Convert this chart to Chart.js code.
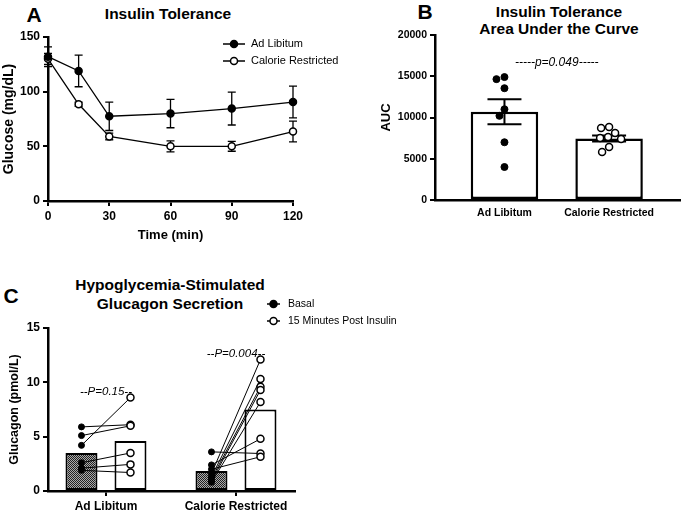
<!DOCTYPE html>
<html>
<head>
<meta charset="utf-8">
<script src="https://cdn.jsdelivr.net/npm/chart.js@4.4.1/dist/chart.umd.min.js"></script>
<style>
  html, body { margin: 0; padding: 0; background: #fff; }
  body { width: 685px; height: 515px; position: relative; overflow: hidden; font-family: "Liberation Sans", Arial, sans-serif; }
  canvas { position: absolute; }
  .t { position: absolute; transform: translate(-50%, -50%); font-weight: bold; white-space: nowrap; color: #000; line-height: 1; }
  .title { font-size: 15.5px; }
  .letter { font-size: 21px; }
</style>
</head>
<body>
<div class="t letter" style="left:34px;top:14px">A</div>
<div class="t title" style="left:168px;top:14px">Insulin Tolerance</div>
<div class="t letter" style="left:425px;top:11px">B</div>
<div class="t title" style="left:559px;top:12px">Insulin Tolerance</div>
<div class="t title" style="left:559px;top:29px">Area Under the Curve</div>
<div class="t letter" style="left:11px;top:295px">C</div>
<div class="t title" style="left:170px;top:285px">Hypoglycemia-Stimulated</div>
<div class="t title" style="left:170px;top:304px">Glucagon Secretion</div>

<canvas id="chartA" width="345" height="245" style="left:0;top:0;width:345px;height:245px"></canvas>
<canvas id="chartB" width="340" height="230" style="left:345px;top:0;width:340px;height:230px"></canvas>
<canvas id="chartC" width="440" height="265" style="left:0;top:250px;width:440px;height:265px"></canvas>

<script>
// Panel A: insulin tolerance test, glucose mean and SEM per time point
const timeMin = [0, 15, 30, 60, 90, 120];
const adLibGlucose = [132, 119, 77.5, 80, 84.5, 90.5];
const adLibGlucoseSem = [9, 14.5, 13, 13, 15, 14.5];
const crGlucose = [130, 88.5, 59, 50, 50, 63.5];
const crGlucoseSem = [5, 2, 3, 5, 4.5, 9.5];

// Panel B: area under the curve
const groups = ["Ad Libitum", "Calorie Restricted"];
const aucMean = [10700, 7450];
const aucSem = [1520, 370];
const aucAdLib = [14900, 14650, 13550, 11000, 10200, 7000, 4000];
const aucCR = [8850, 8730, 8120, 7640, 7520, 7400, 6420, 5820];

// Panel C: glucagon, basal vs 15 min post insulin (paired by index)
const glucagonBasalMean = [3.5, 1.85];
const glucagonPostMean = [4.6, 7.5];
const adLibBasal = [5.9, 5.1, 4.2, 2.6, 2.1, 1.9];
const adLibPost = [6.1, 6.0, 8.6, 3.5, 2.45, 1.7];
const crBasal = [3.6, 2.4, 2.0, 1.6, 1.3, 1.1, 0.9, 0.8];
const crPost = [3.45, 4.8, 3.15, 12.1, 10.3, 9.6, 9.3, 8.2];

const FONT = '"Liberation Sans", Arial, sans-serif';
Chart.defaults.font.family = FONT;
Chart.defaults.color = "#000";
Chart.defaults.animation = false;
Chart.defaults.events = [];
Chart.defaults.plugins.legend.display = false;
Chart.defaults.plugins.tooltip.enabled = false;

function axisStyle(tickLen) {
  return {
    offset: false,
    grid: { offset: false, drawOnChartArea: false, drawTicks: tickLen > 0, tickLength: tickLen, color: "#000", lineWidth: 2 },
    border: { color: "#000", width: 2.5 },
  };
}
function fixSize(px) {
  return (s) => { if (s.isHorizontal()) s.height = px; else s.width = px; };
}
const bold = (size) => ({ size, weight: "bold" });

// error bars for line datasets (mean +/- sem)
const lineErrorBars = {
  id: "lineErrorBars",
  beforeDatasetsDraw(chart) {
    const ctx = chart.ctx, y = chart.scales.y;
    chart.data.datasets.forEach((ds, i) => {
      if (!ds.sem) return;
      chart.getDatasetMeta(i).data.forEach((pt, j) => {
        const v = ds.data[j].y;
        const top = y.getPixelForValue(v + ds.sem[j]);
        const bot = y.getPixelForValue(v - ds.sem[j]);
        ctx.save();
        ctx.strokeStyle = "#000";
        ctx.lineWidth = 1.3;
        ctx.beginPath();
        ctx.moveTo(pt.x, top); ctx.lineTo(pt.x, bot);
        ctx.moveTo(pt.x - 4, top); ctx.lineTo(pt.x + 4, top);
        ctx.moveTo(pt.x - 4, bot); ctx.lineTo(pt.x + 4, bot);
        ctx.stroke();
        ctx.restore();
      });
    });
  },
};

// error bars on top of bars
const barErrorBars = {
  id: "barErrorBars",
  afterDatasetDraw(chart, args) {
    const ds = chart.data.datasets[args.index];
    if (!ds.sem || ds.type !== "bar") return;
    const ctx = chart.ctx, y = chart.scales.y;
    args.meta.data.forEach((bar, j) => {
      const v = ds.data[j].y;
      const top = y.getPixelForValue(v + ds.sem[j]);
      const bot = y.getPixelForValue(v - ds.sem[j]);
      ctx.save();
      ctx.strokeStyle = "#000";
      ctx.lineWidth = 2;
      ctx.beginPath();
      ctx.moveTo(bar.x, top); ctx.lineTo(bar.x, bot);
      ctx.moveTo(bar.x - 17, top); ctx.lineTo(bar.x + 17, top);
      ctx.moveTo(bar.x - 17, bot); ctx.lineTo(bar.x + 17, bot);
      ctx.stroke();
      ctx.restore();
    });
  },
};

// moves points onto their bar's centre, then spreads overlapping ones sideways
const placePoints = {
  id: "placePoints",
  afterDatasetsUpdate(chart) {
    chart.data.datasets.forEach((ds, i) => {
      const pts = chart.getDatasetMeta(i).data;
      if (ds.alignTo !== undefined) {
        const bars = chart.getDatasetMeta(ds.alignTo).data;
        pts.forEach((p, j) => { p.x = bars[ds.data[j].x].x; });
      }
      if (ds.swarm) {
        const placed = [];
        [...pts].sort((a, b) => a.y - b.y).forEach((p) => {
          const x0 = p.x;
          for (let k = 0; k < 80; k++) {
            const off = (k % 2 ? -1 : 1) * Math.ceil(k / 2);
            const ok = placed.every((q) => Math.hypot(x0 + off - q.x, p.y - q.y) >= ds.swarm);
            if (ok) { p.x = x0 + off; break; }
          }
          placed.push(p);
        });
      }
    });
  },
};

// thin lines joining each animal's basal and post values
let pairsDrawn = false;
const pairLines = {
  id: "pairLines",
  beforeDraw() { pairsDrawn = false; },
  beforeDatasetDraw(chart, args) {
    if (pairsDrawn || chart.data.datasets[args.index].type !== "scatter") return;
    pairsDrawn = true;
    const a = chart.getDatasetMeta(2).data, b = chart.getDatasetMeta(3).data;
    const ctx = chart.ctx;
    ctx.save();
    ctx.strokeStyle = "#000";
    ctx.lineWidth = 1;
    a.forEach((p, j) => {
      ctx.beginPath(); ctx.moveTo(p.x, p.y); ctx.lineTo(b[j].x, b[j].y); ctx.stroke();
    });
    ctx.restore();
  },
};

function makeLegend(cfg) {
  return {
    id: "legendBox",
    afterDraw(chart) {
      const ctx = chart.ctx;
      const items = chart.data.datasets.filter((d) => d.legend);
      ctx.save();
      ctx.font = `${cfg.size}px ${FONT}`;
      ctx.textBaseline = "middle";
      items.forEach((d, i) => {
        const y = cfg.y + i * cfg.gap;
        ctx.strokeStyle = "#000";
        ctx.lineWidth = 1.5;
        ctx.beginPath(); ctx.moveTo(cfg.x, y); ctx.lineTo(cfg.x + cfg.line, y); ctx.stroke();
        ctx.beginPath(); ctx.arc(cfg.x + cfg.line / 2, y, 3.5, 0, Math.PI * 2);
        ctx.fillStyle = d.pointBackgroundColor; ctx.fill(); ctx.stroke();
        ctx.fillStyle = "#000";
        ctx.fillText(d.label, cfg.textX, y);
      });
      ctx.restore();
    },
  };
}

function makeNotes(notes, size) {
  return {
    id: "notes",
    afterDraw(chart) {
      const ctx = chart.ctx, x = chart.scales.x, y = chart.scales.y;
      ctx.save();
      ctx.font = `italic ${size}px ${FONT}`;
      ctx.textAlign = "center";
      ctx.textBaseline = "middle";
      ctx.fillStyle = "#000";
      notes.forEach((n) => ctx.fillText(n.text, x.getPixelForValue(n.x), y.getPixelForValue(n.y)));
      ctx.restore();
    },
  };
}

function checker(canvas) {
  const c = document.createElement("canvas");
  c.width = c.height = 2;
  const g = c.getContext("2d");
  g.fillStyle = "#aaa"; g.fillRect(0, 0, 2, 2);
  g.fillStyle = "#222"; g.fillRect(0, 0, 1, 1); g.fillRect(1, 1, 1, 1);
  return canvas.getContext("2d").createPattern(c, "repeat");
}

// A: INSULIN TOLERANCE (line with error bars)
new Chart(document.getElementById("chartA"), {
  type: "line",
  data: {
    datasets: [
      {
        label: "Ad Libitum", legend: true,
        data: timeMin.map((t, i) => ({ x: t, y: adLibGlucose[i] })), sem: adLibGlucoseSem,
        borderColor: "#000", borderWidth: 1.3, pointRadius: 3.5,
        pointBackgroundColor: "#000", pointBorderColor: "#000", pointBorderWidth: 1.5, clip: false,
      },
      {
        label: "Calorie Restricted", legend: true,
        data: timeMin.map((t, i) => ({ x: t, y: crGlucose[i] })), sem: crGlucoseSem,
        borderColor: "#000", borderWidth: 1.3, pointRadius: 3.5,
        pointBackgroundColor: "#fff", pointBorderColor: "#000", pointBorderWidth: 1.5, clip: false,
      },
    ],
  },
  options: {
    responsive: false,
    layout: { padding: { top: 37, right: 52, left: 0, bottom: 0 } },
    scales: {
      x: {
        type: "linear", min: 0, max: 120, ...axisStyle(5),
        ticks: { stepSize: 30, padding: 3, font: bold(12) },
        title: { display: true, text: "Time (min)", font: bold(13), padding: { top: 0, bottom: 2 } },
        afterFit: fixSize(44),
      },
      y: {
        min: 0, max: 150, ...axisStyle(5),
        ticks: { stepSize: 50, padding: 3, font: bold(12) },
        title: { display: true, text: "Glucose (mg/dL)", font: bold(14), padding: { top: 1, bottom: 0 } },
        afterFit: fixSize(48),
      },
    },
  },
  plugins: [lineErrorBars, makeLegend({ x: 223, line: 22, textX: 251, y: 44, gap: 17, size: 11 })],
});

// B: AREA UNDER THE CURVE (bar + individual points)
new Chart(document.getElementById("chartB"), {
  type: "bar",
  data: {
    datasets: [
      {
        type: "bar", order: 2,
        data: groups.map((g, i) => ({ x: i + 1, y: aucMean[i] })), sem: aucSem,
        backgroundColor: "#fff", borderColor: "#000", borderWidth: 2.5, borderSkipped: false,
        barPercentage: 0.645, categoryPercentage: 1,
      },
      {
        type: "scatter", order: 1, swarm: 8,
        data: aucAdLib.map((v) => ({ x: 1, y: v })),
        pointRadius: 3.5, pointBackgroundColor: "#000", pointBorderColor: "#000", pointBorderWidth: 1,
      },
      {
        type: "scatter", order: 1, swarm: 8,
        data: aucCR.map((v) => ({ x: 2, y: v })),
        pointRadius: 3.5, pointBackgroundColor: "#fff", pointBorderColor: "#000", pointBorderWidth: 1.5,
      },
    ],
  },
  options: {
    responsive: false,
    layout: { padding: { top: 35, right: 0, left: 0, bottom: 0 } },
    scales: {
      x: {
        type: "linear", min: 0.336, max: 2.673, ...axisStyle(0),
        afterBuildTicks: (s) => { s.ticks = groups.map((g, i) => ({ value: i + 1 })); },
        ticks: { padding: 7, font: bold(10.5), callback: (v) => groups[v - 1] },
        afterFit: fixSize(30),
      },
      y: {
        min: 0, max: 20000, ...axisStyle(5),
        ticks: { stepSize: 5000, padding: 3, font: bold(10.5), callback: (v) => String(v) },
        title: { display: true, text: "AUC", font: bold(13), padding: { top: 34, bottom: 0 } },
        afterFit: fixSize(90),
      },
    },
  },
  plugins: [placePoints, barErrorBars, makeNotes([{ text: "-----p=0.049-----", x: 1.5, y: 16600 }], 12)],
});

// C: GLUCAGON SECRETION (paired bars)
const canvasC = document.getElementById("chartC");
new Chart(canvasC, {
  type: "bar",
  data: {
    datasets: [
      {
        type: "bar", order: 2,
        data: groups.map((g, i) => ({ x: i, y: glucagonBasalMean[i] })),
        backgroundColor: checker(canvasC), borderColor: "#000", borderWidth: 2, borderSkipped: false,
        categoryPercentage: 0.754, barPercentage: 0.653,
      },
      {
        type: "bar", order: 2,
        data: groups.map((g, i) => ({ x: i, y: glucagonPostMean[i] })),
        backgroundColor: "#fff", borderColor: "#000", borderWidth: 2, borderSkipped: false,
        categoryPercentage: 0.754, barPercentage: 0.653,
      },
      {
        type: "scatter", order: 1, label: "Basal", legend: true, alignTo: 0,
        data: [...adLibBasal.map((v) => ({ x: 0, y: v })), ...crBasal.map((v) => ({ x: 1, y: v }))],
        pointRadius: 3, pointBackgroundColor: "#000", pointBorderColor: "#000", pointBorderWidth: 1,
      },
      {
        type: "scatter", order: 1, label: "15 Minutes Post Insulin", legend: true, alignTo: 1,
        data: [...adLibPost.map((v) => ({ x: 0, y: v })), ...crPost.map((v) => ({ x: 1, y: v }))],
        pointRadius: 3.5, pointBackgroundColor: "#fff", pointBorderColor: "#000", pointBorderWidth: 1.5,
      },
    ],
  },
  options: {
    responsive: false,
    layout: { padding: { top: 78, right: 145, left: 0, bottom: 0 } },
    scales: {
      x: {
        type: "linear", min: -0.446, max: 1.454, ...axisStyle(5),
        afterBuildTicks: (s) => { s.ticks = groups.map((g, i) => ({ value: i })); },
        ticks: { padding: 3, font: bold(12), callback: (v) => groups[v] },
        afterFit: fixSize(24),
      },
      y: {
        min: 0, max: 15, ...axisStyle(5),
        ticks: { stepSize: 5, padding: 3, font: bold(12) },
        title: { display: true, text: "Glucagon (pmol/L)", font: bold(12.5), padding: { top: 7, bottom: 0 } },
        afterFit: fixSize(48),
      },
    },
  },
  plugins: [
    placePoints, pairLines,
    makeLegend({ x: 267, line: 13, textX: 288, y: 54, gap: 17, size: 10.5 }),
    makeNotes([{ text: "--P=0.15--", x: 0, y: 9.15 }, { text: "--P=0.004--", x: 1, y: 12.6 }], 11.5),
  ],
});
</script>
</body>
</html>
